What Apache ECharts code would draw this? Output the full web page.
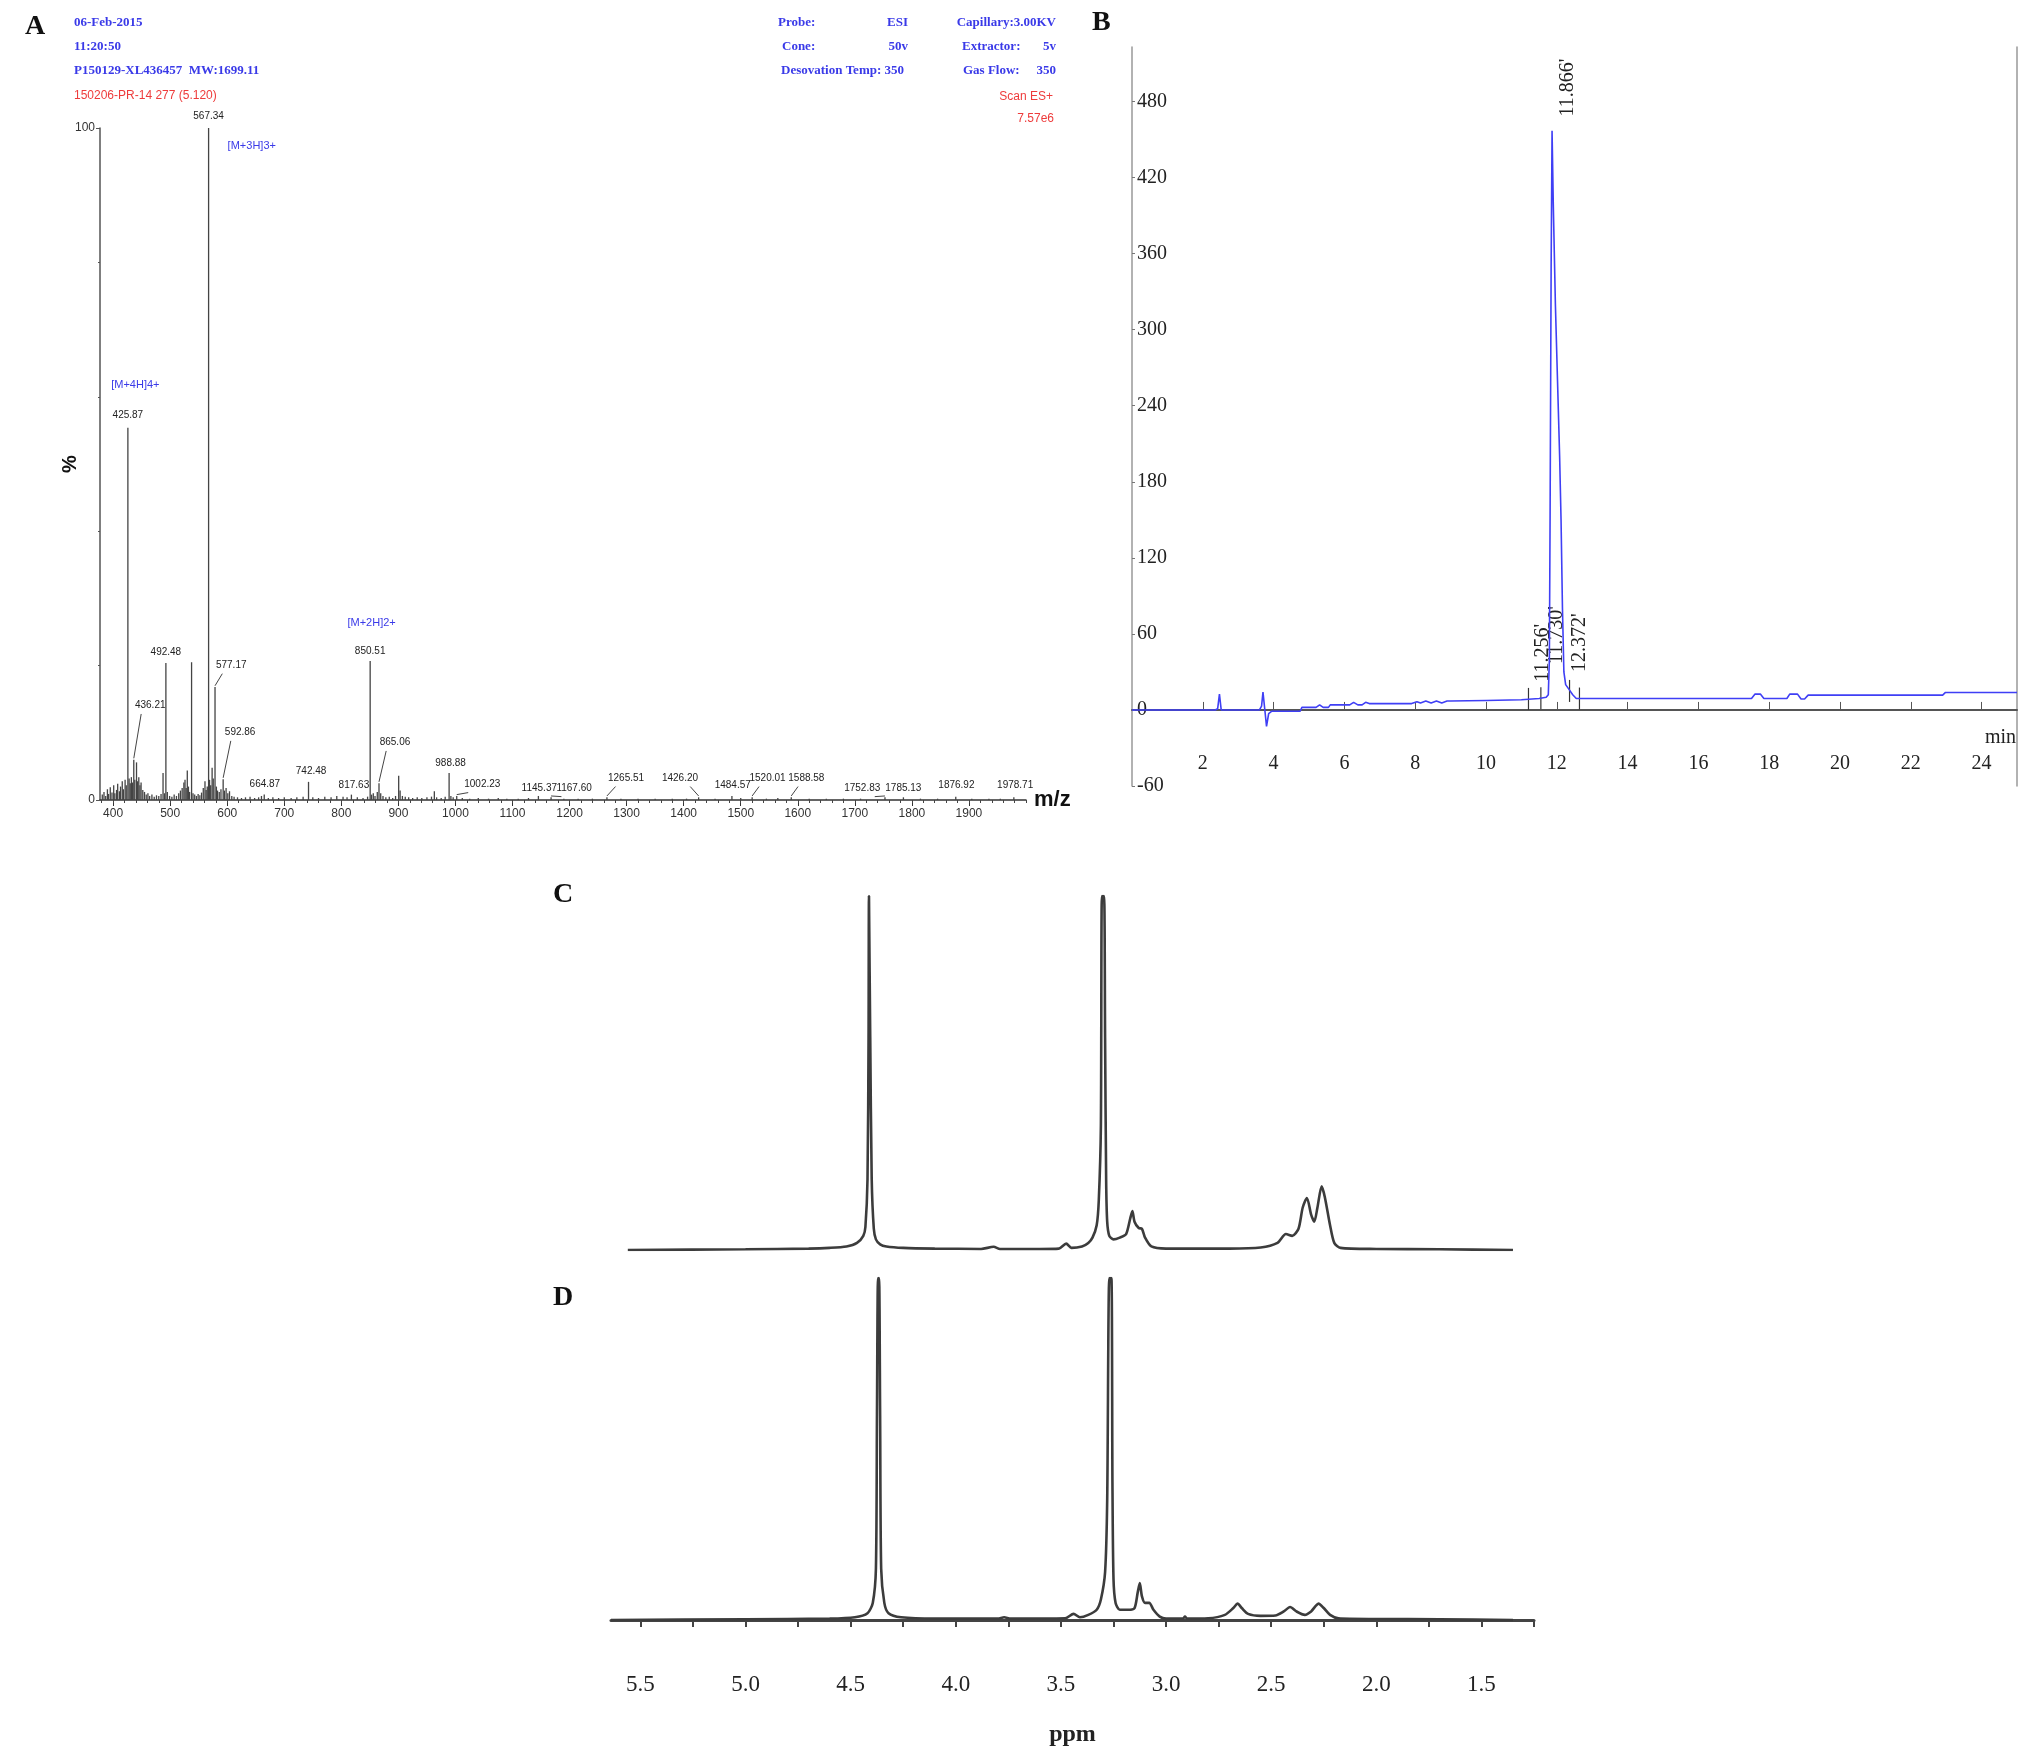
<!DOCTYPE html>
<html>
<head>
<meta charset="utf-8">
<script src="https://cdn.jsdelivr.net/npm/echarts@6/dist/echarts.min.js"></script>
<style>
  html, body { margin: 0; padding: 0; background: #fff; }
  #chart { width: 2031px; height: 1763px; }
</style>
</head>
<body>
<div id="chart"></div>
<script>
// ---- Panel A: ESI-MS stick spectrum, [m/z, relative intensity %] ----
const msPeaks = [
  [381,0.8],[384,1.2],[387,0.6],[390,1.6],[392,0.9],[395,1.9],[398,1.1],[401,2.2],[403,1.0],[406,1.5],
  [408,2.4],[411,1.3],[413,2.0],[416,2.8],[418,1.6],[421,3.0],[423,2.2],[425.87,55.4],[428,3.2],[430,2.5],
  [432,3.4],[434,2.6],[436.21,6.0],[438,3.0],[441,5.6],[443,2.8],[445,3.4],[447,2.2],[449,2.6],[452,1.5],
  [455,1.2],[458,0.8],[461,1.0],[464,0.6],[468,0.8],[472,0.5],[476,0.7],[480,0.6],[484,0.9],[487.5,4.0],
  [490,1.0],[492.48,20.4],[495,1.2],[499,0.6],[503,0.5],[507,0.8],[511,0.6],[515,1.0],[518,1.4],[521,1.8],
  [524,2.6],[526,3.0],[528,1.8],[530,4.4],[532,2.0],[534,1.2],[537.5,20.5],[540,1.0],[543,0.8],[546,0.6],
  [549,0.9],[552,0.7],[555,1.1],[558,1.8],[561,2.8],[563,1.5],[565,2.0],[567.34,100],[569,3.0],[571,2.2],
  [573.5,4.8],[575.5,3.2],[578.6,16.8],[581,2.0],[583,1.4],[586,1.2],[589,1.6],[592.86,3.1],[595,1.4],[598,1.8],
  [601,1.0],[604,1.3],[608,0.6],[612,0.5],[618,0.4],[625,0.3],[632,0.4],[640,0.5],[648,0.3],[655,0.4],
  [660,0.6],[664.87,0.8],[672,0.3],[680,0.4],[690,0.3],[700,0.4],[712,0.3],[722,0.4],[733,0.5],[742.48,2.7],
  [750,0.4],[760,0.3],[771,0.5],[782,0.4],[792,0.6],[803,0.5],[810,0.4],[817.63,0.8],[828,0.4],[838,0.3],
  [846,0.5],[850.51,20.7],[853,0.8],[856,1.0],[859,0.6],[863,1.2],[866,2.5],[869,1.0],[873,0.6],[878,0.4],
  [884,0.5],[890,0.3],[895,0.6],[900.5,3.6],[903,1.4],[907,0.6],[912,0.5],[918,0.4],[925,0.3],[933,0.4],
  [941,0.3],[950,0.4],[958,0.5],[963,1.3],[967,0.4],[975,0.3],[982,0.5],[988.88,4.0],[992,0.6],[996,0.4],
  [1002.23,0.6],[1012,0.3],[1025,0.2],[1040,0.3],[1058,0.2],[1075,0.3],[1090,0.2],[1110,0.2],[1128,0.3],[1145.37,0.6],
  [1167.6,0.4],[1190,0.2],[1215,0.2],[1240,0.2],[1265.51,0.4],[1290,0.2],[1320,0.2],[1350,0.2],[1380,0.2],[1405,0.2],
  [1426.2,0.4],[1455,0.2],[1484.57,0.6],[1500,0.3],[1520.01,0.4],[1545,0.2],[1565,0.3],[1588.58,0.4],[1620,0.2],[1650,0.2],
  [1680,0.2],[1710,0.2],[1752.83,0.4],[1785.13,0.4],[1815,0.2],[1845,0.2],[1876.92,0.5],[1905,0.2],[1935,0.2],[1955,0.2],
  [1978.71,0.4]
];
// [text, label m/z, label %, peak m/z (leader), peak %]
const msPeakLabels = [
  ['567.34', 567.34, 101.8], ['425.87', 425.87, 57.2], ['492.48', 492.48, 22.0], ['850.51', 850.51, 22.2],
  ['577.17', 607, 20.1, 578.6, 16.8], ['436.21', 465, 14.1, 436.21, 6.0], ['592.86', 622.6, 10.1, 592.86, 3.1],
  ['664.87', 666, 2.4], ['742.48', 747, 4.3], ['817.63', 822, 2.2], ['865.06', 894, 8.6, 866, 2.5],
  ['988.88', 991.4, 5.5], ['1002.23', 1047, 2.4, 1002.23, 0.6], ['1145.37', 1147, 1.8],
  ['1167.60', 1208, 1.8, 1167.6, 0.4], ['1265.51', 1299, 3.3, 1265.51, 0.4], ['1426.20', 1393.5, 3.3, 1426.2, 0.4],
  ['1484.57', 1486, 2.2], ['1520.01', 1547, 3.3, 1520.01, 0.4], ['1588.58', 1615, 3.3, 1588.58, 0.4],
  ['1752.83', 1713, 1.8, 1752.83, 0.4], ['1785.13', 1785, 1.8], ['1876.92', 1878, 2.2], ['1978.71', 1981, 2.2]
];
const msIonLabels = [['[M+4H]4+', 439, 61.8], ['[M+3H]3+', 643, 97.3], ['[M+2H]2+', 853, 26.3]];
const msTickLabels = [400, 500, 600, 700, 800, 900, 1000, 1100, 1200, 1300, 1400, 1500, 1600, 1700, 1800, 1900];

// ---- Panel B: HPLC chromatogram, [time min, mAU] ----
const hplcTrace = [
  [0,0],[2.35,0],[2.42,1],[2.47,12.5],[2.52,0],[3.6,0],[3.66,3],[3.7,14],[3.76,-2],[3.8,-13],[3.86,-3],
  [3.95,-1],[4.75,-1],[4.8,2],[5.2,2],[5.3,4],[5.4,2],[5.55,2],[5.6,4],[6.15,4],[6.26,6],[6.38,4],[6.5,4],
  [6.6,6],[6.7,5],[7.9,5],[8.05,6.5],[8.15,5.5],[8.3,7],[8.45,5.5],[8.6,7],[8.75,5.5],[8.9,7],[9.0,7],
  [10.0,7.5],[11.0,8],[11.5,9],[11.7,10],[11.76,12],[11.79,40],[11.81,150],[11.84,350],[11.866,457],
  [11.9,400],[11.96,320],[12.02,260],[12.08,200],[12.12,150],[12.16,80],[12.2,30],[12.25,20],[12.35,16],
  [12.45,12],[12.55,9],[12.8,9],[17.5,9],[17.6,12.5],[17.75,12.5],[17.85,9],[18.5,9],[18.58,12.5],
  [18.8,12.5],[18.9,8.6],[19.0,8.6],[19.1,11.7],[22.9,11.7],[22.98,13.8],[25,13.8]
];
const hplcLabels = [["11.866'", 12.3, 491], ["11.256'", 11.6, 45], ["11.730'", 12.0, 59], ["12.372'", 12.64, 53]];
const hplcMarkers = [[11.2, 8.7], [11.55, 9.2], [12.36, 15], [12.64, 9]];

// ---- Panels C and D: 1H NMR, [ppm, relative height] ----
const nmrC = [
  [5.56,0],[5.0,0.2],[4.7,0.4],[4.6,0.6],[4.52,1],[4.47,2],[4.44,4],[4.43,6.5],[4.42,20],[4.415,60],
  [4.413,100],[4.41,100],[4.407,60],[4.40,20],[4.39,6],[4.38,3],[4.36,1.6],[4.33,1],[4.25,0.6],[4.1,0.4],
  [3.88,0.3],[3.82,0.9],[3.79,0.3],[3.6,0.3],[3.51,0.4],[3.475,1.8],[3.45,0.6],[3.40,1],[3.37,2],[3.35,3.5],
  [3.33,7],[3.32,14],[3.31,35],[3.305,100],[3.295,100],[3.29,60],[3.285,20],[3.28,8],[3.27,4],[3.25,3],
  [3.22,3.5],[3.19,4.5],[3.17,9],[3.16,11],[3.15,8],[3.13,6.2],[3.115,6],[3.1,3.5],[3.07,1],[3.0,0.4],
  [2.7,0.4],[2.55,0.7],[2.47,2],[2.43,4.5],[2.40,4],[2.37,6],[2.35,12],[2.33,14.7],[2.31,10],[2.295,8],
  [2.28,12],[2.26,18],[2.245,15],[2.22,7],[2.2,2],[2.17,0.6],[2.0,0.3],[1.7,0.2],[1.35,0]
];
const nmrD = [
  [5.64,0],[5.0,0.2],[4.6,0.4],[4.48,0.8],[4.42,2],[4.395,5],[4.38,15],[4.375,60],[4.37,100],[4.365,100],
  [4.36,60],[4.355,15],[4.34,5],[4.32,2],[4.26,0.8],[4.1,0.4],[3.8,0.4],[3.77,0.8],[3.74,0.4],[3.48,0.5],
  [3.44,1.8],[3.41,0.8],[3.37,1.5],[3.33,3],[3.31,6],[3.29,14],[3.28,35],[3.27,100],[3.26,100],[3.255,40],
  [3.25,12],[3.24,5],[3.22,3],[3.18,3],[3.15,3.5],[3.135,8],[3.125,10.8],[3.115,7],[3.1,5],[3.08,5],
  [3.06,3],[3.03,1],[3.0,0.4],[2.92,0.4],[2.91,1],[2.90,0.4],[2.8,0.5],[2.72,1.5],[2.68,3.5],[2.66,4.8],
  [2.64,3.5],[2.61,1.8],[2.55,1.2],[2.48,1.3],[2.44,2.5],[2.41,3.8],[2.38,2.5],[2.34,1.5],[2.31,2.5],[2.29,4],
  [2.275,4.8],[2.25,3.5],[2.22,1.5],[2.18,0.5],[2.0,0.3],[1.7,0.2],[1.35,0]
];
const ppmTicks = [1.25,1.5,1.75,2.0,2.25,2.5,2.75,3.0,3.25,3.5,3.75,4.0,4.25,4.5,4.75,5.0,5.25,5.5];
const ppmLabels = [1.5,2.0,2.5,3.0,3.5,4.0,4.5,5.0,5.5];

const SANS = "'Liberation Sans Narrow', 'Liberation Sans', Arial, sans-serif";
const SERIF = "'Liberation Serif', 'Times New Roman', serif";
const BLUE = '#3a3ae8';
const RED = '#ee3b3b';

const msMinorTicks = [];
for (let v = 380; v <= 2000; v += 20) msMinorTicks.push(v);

function txt(text, x, y, font, fill, align) {
  return {
    type: 'text', x: x, y: y, silent: true,
    style: { text: text, font: font, fill: fill, textAlign: align || 'left', align: align || 'left',
             textVerticalAlign: 'middle', verticalAlign: 'middle' }
  };
}

const chart = echarts.init(document.getElementById('chart'), null, { renderer: 'canvas' });

const hdrFont = 'bold 13px ' + SERIF;
const option = {
  backgroundColor: '#fff',
  animation: false,
  grid: [
    { left: 100, top: 128, width: 926, height: 672 },
    { left: 1132, top: 47, width: 885, height: 739 },
    { left: 611, top: 896, width: 923, height: 354 },
    { left: 611, top: 1278, width: 923, height: 342 }
  ],
  xAxis: [
    { gridIndex: 0, type: 'value', min: 377, max: 2000, position: 'bottom',
      name: 'm/z', nameLocation: 'end', nameGap: 8,
      nameTextStyle: { fontFamily: 'Liberation Sans', fontWeight: 'bold', fontSize: 22, color: '#111', verticalAlign: 'middle' },
      axisLine: { lineStyle: { color: '#333', width: 1.5 } },
      axisTick: { customValues: msTickLabels, length: 6, lineStyle: { color: '#333' } },
      axisLabel: { customValues: msTickLabels, formatter: v => String(v), fontFamily: SANS, fontSize: 12, color: '#333', margin: 8 },
      splitLine: { show: false } },
    { gridIndex: 0, type: 'value', min: 377, max: 2000, position: 'bottom',
      axisLine: { show: false },
      axisTick: { customValues: msMinorTicks, length: 3, lineStyle: { color: '#444' } },
      axisLabel: { show: false }, splitLine: { show: false } },
    { gridIndex: 1, type: 'value', min: 0, max: 25, interval: 2,
      axisLine: { lineStyle: { color: '#555', width: 2 } },
      axisTick: { inside: true, length: 8, lineStyle: { color: '#555' } },
      axisLabel: { inside: true, showMinLabel: false, showMaxLabel: false, margin: 12, fontFamily: SERIF, fontSize: 20, color: '#222' },
      splitLine: { show: false } },
    { gridIndex: 2, type: 'value', min: 1.25, max: 5.64, inverse: true, show: false },
    { gridIndex: 3, type: 'value', min: 1.25, max: 5.64, inverse: true, offset: 39,
      name: 'ppm', nameLocation: 'middle', nameGap: 64,
      nameTextStyle: { fontFamily: SERIF, fontWeight: 'bold', fontSize: 24, color: '#222' },
      axisLine: { lineStyle: { color: '#444', width: 3 } },
      axisTick: { customValues: ppmTicks, length: 7, lineStyle: { color: '#444', width: 2 } },
      axisLabel: { customValues: ppmLabels, formatter: v => v.toFixed(1), fontFamily: SERIF, fontSize: 23, color: '#222', margin: 14 },
      splitLine: { show: false } }
  ],
  yAxis: [
    { gridIndex: 0, type: 'value', min: 0, max: 100, interval: 100,
      name: '%', nameLocation: 'middle', nameGap: 20, nameRotate: 90, nameMoveOverlap: false,
      nameTextStyle: { fontFamily: 'Liberation Sans', fontWeight: 'bold', fontSize: 20, color: '#111' },
      axisLine: { show: true, lineStyle: { color: '#555', width: 1.5 } },
      axisTick: { show: true, length: 4, lineStyle: { color: '#555' } },
      minorTick: { show: true, splitNumber: 5, length: 2, lineStyle: { color: '#555' } },
      axisLabel: { fontFamily: SANS, fontSize: 12, color: '#333', margin: 5 },
      splitLine: { show: false } },
    { gridIndex: 1, type: 'value', min: -60, max: 523, interval: 60,
      axisLine: { show: true, lineStyle: { color: '#999', width: 1.5 } },
      axisTick: { show: true, inside: true, length: 3, lineStyle: { color: '#777' } },
      axisLabel: { inside: true, showMaxLabel: false, margin: 5, fontFamily: SERIF, fontSize: 20, color: '#222' },
      splitLine: { show: false } },
    { gridIndex: 1, type: 'value', min: -60, max: 523, position: 'right',
      axisLine: { show: true, lineStyle: { color: '#999', width: 1.5 } },
      axisTick: { show: false }, axisLabel: { show: false }, splitLine: { show: false } },
    { gridIndex: 2, type: 'value', min: 0, max: 100, show: false },
    { gridIndex: 3, type: 'value', min: 0, max: 100, show: false }
  ],
  series: [
    { type: 'custom', name: 'MS sticks', xAxisIndex: 0, yAxisIndex: 0, clip: false, silent: true,
      data: msPeaks,
      renderItem: (params, api) => {
        const b = api.coord([api.value(0), 0]);
        const t = api.coord([api.value(0), api.value(1)]);
        return { type: 'line', shape: { x1: b[0], y1: b[1], x2: t[0], y2: t[1] },
                 style: { stroke: '#444', lineWidth: 1.3 } };
      } },
    { type: 'custom', name: 'MS labels', xAxisIndex: 0, yAxisIndex: 0, clip: false, silent: true,
      data: msPeakLabels.map(d => [d[1], d[2]]),
      renderItem: (params, api) => {
        const d = msPeakLabels[params.dataIndex];
        const p = api.coord([d[1], d[2]]);
        const children = [{ type: 'text', x: p[0], y: p[1],
          style: { text: d[0], font: '10px ' + SANS, fill: '#222', textAlign: 'center', align: 'center',
                   textVerticalAlign: 'middle', verticalAlign: 'middle' } }];
        if (d[3] != null) {
          const s = api.coord([d[1] - 0.55 * (d[1] - d[3]), d[2] - 1.3]);
          const e = api.coord([d[3], d[4] + 0.2]);
          children.push({ type: 'line', shape: { x1: s[0], y1: s[1], x2: e[0], y2: e[1] },
                          style: { stroke: '#444', lineWidth: 1 } });
        }
        return { type: 'group', children: children };
      } },
    { type: 'custom', name: 'Ion labels', xAxisIndex: 0, yAxisIndex: 0, clip: false, silent: true,
      data: msIonLabels.map(d => [d[1], d[2]]),
      renderItem: (params, api) => {
        const p = api.coord([api.value(0), api.value(1)]);
        return { type: 'text', x: p[0], y: p[1],
          style: { text: msIonLabels[params.dataIndex][0], font: '11px ' + SANS, fill: BLUE,
                   textAlign: 'center', align: 'center', textVerticalAlign: 'middle', verticalAlign: 'middle' } };
      } },
    { type: 'line', name: 'HPLC', xAxisIndex: 2, yAxisIndex: 1, data: hplcTrace, showSymbol: false,
      lineStyle: { color: '#3f3ff5', width: 1.6 }, silent: true },
    { type: 'custom', name: 'HPLC markers', xAxisIndex: 2, yAxisIndex: 1, clip: false, silent: true,
      data: hplcMarkers,
      renderItem: (params, api) => {
        const p = api.coord([api.value(0), api.value(1)]);
        return { type: 'line', shape: { x1: p[0], y1: p[1] - 11, x2: p[0], y2: p[1] + 11 },
                 style: { stroke: '#333', lineWidth: 1.2 } };
      } },
    { type: 'custom', name: 'HPLC labels', xAxisIndex: 2, yAxisIndex: 1, clip: false, silent: true,
      data: hplcLabels.map(d => [d[1], d[2]]),
      renderItem: (params, api) => {
        const p = api.coord([api.value(0), api.value(1)]);
        return { type: 'text', x: p[0], y: p[1], rotation: Math.PI / 2,
          style: { text: hplcLabels[params.dataIndex][0], font: '20px ' + SERIF, fill: '#222', x: 0, y: 0,
                   textAlign: 'center', align: 'center', textVerticalAlign: 'middle', verticalAlign: 'middle' } };
      } },
    { type: 'line', name: 'NMR C', xAxisIndex: 3, yAxisIndex: 3, data: nmrC, showSymbol: false,
      smooth: 0.25, lineStyle: { color: '#3c3c3c', width: 2.6 }, silent: true },
    { type: 'line', name: 'NMR D', xAxisIndex: 4, yAxisIndex: 4, data: nmrD, showSymbol: false,
      smooth: 0.25, lineStyle: { color: '#3c3c3c', width: 2.6 }, silent: true }
  ],
  graphic: [
    txt('A', 25, 27, 'bold 28px ' + SERIF, '#111'),
    txt('B', 1092, 23, 'bold 28px ' + SERIF, '#111'),
    txt('C', 553, 895, 'bold 28px ' + SERIF, '#111'),
    txt('D', 553, 1298, 'bold 28px ' + SERIF, '#111'),
    txt('06-Feb-2015', 74, 23, hdrFont, BLUE),
    txt('11:20:50', 74, 47, hdrFont, BLUE),
    txt('P150129-XL436457  MW:1699.11', 74, 71, hdrFont, BLUE),
    txt('150206-PR-14 277 (5.120)', 74, 96, '12px ' + SANS, RED),
    txt('Probe:', 778, 23, hdrFont, BLUE),
    txt('ESI', 908, 23, hdrFont, BLUE, 'right'),
    txt('Capillary:3.00KV', 1056, 23, hdrFont, BLUE, 'right'),
    txt('Cone:', 782, 47, hdrFont, BLUE),
    txt('50v', 908, 47, hdrFont, BLUE, 'right'),
    txt('Extractor:', 962, 47, hdrFont, BLUE),
    txt('5v', 1056, 47, hdrFont, BLUE, 'right'),
    txt('Desovation Temp: 350', 781, 71, hdrFont, BLUE),
    txt('Gas Flow:', 963, 71, hdrFont, BLUE),
    txt('350', 1056, 71, hdrFont, BLUE, 'right'),
    txt('Scan ES+', 1053, 97, '12px ' + SANS, RED, 'right'),
    txt('7.57e6', 1054, 119, '12px ' + SANS, RED, 'right'),
    txt('min', 2016, 738, '20px ' + SERIF, '#222', 'right')
  ]
};
chart.setOption(option);
</script>
</body>
</html>
